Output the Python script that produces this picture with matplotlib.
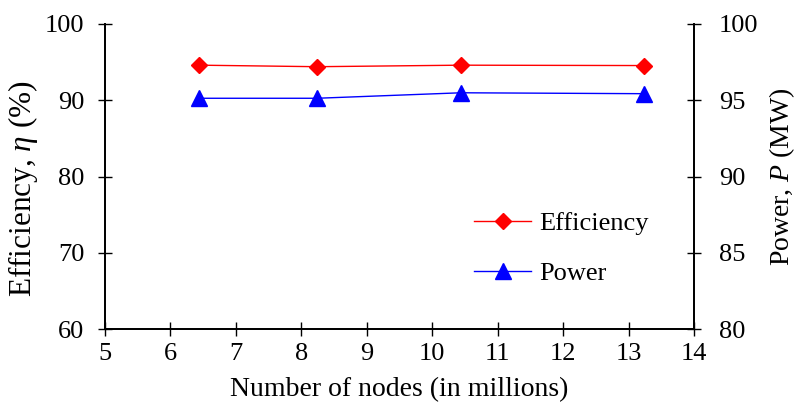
import matplotlib
matplotlib.use("Agg")
import matplotlib.pyplot as plt

nodes = [6.44, 8.24, 10.44, 13.24]
efficiency = [94.6, 94.4, 94.6, 94.55]
power = [95.13, 95.13, 95.49, 95.43]

plt.rcParams['font.family'] = ['Liberation Serif', 'DejaVu Serif']
plt.rcParams['mathtext.fontset'] = 'custom'
plt.rcParams['mathtext.it'] = 'Liberation Serif:italic'
plt.rcParams['mathtext.rm'] = 'Liberation Serif'

fig = plt.figure(figsize=(7.99, 4.12), dpi=100)
ax = fig.add_axes([105/799, 1-329/412, 589/799, 305/412])
ax2 = ax.twinx()

l1, = ax.plot(nodes, efficiency, color='#ff0000', marker='D', markersize=8.5,
              linewidth=1.0, label='Efficiency')
l2, = ax2.plot(nodes, power, color='#0000ff', marker='^', markersize=12,
               linewidth=1.0, label='Power')

ax.set_xlim(5, 14)
ax.set_ylim(60, 100)
ax2.set_ylim(80, 100)
ax.set_xticks(range(5, 15))
ax.set_yticks(range(60, 101, 10))
ax2.set_yticks(range(80, 101, 5))

for a in (ax, ax2):
    a.spines['top'].set_visible(False)
    for s in a.spines.values():
        s.set_linewidth(1.3)
    a.tick_params(direction='inout', length=10, width=1.0, labelsize=19)
ax.tick_params(axis='x', pad=5)
ax.tick_params(axis='y', pad=10)
ax2.tick_params(axis='y', pad=13)

ax.set_xlabel("Number of nodes (in millions)", fontsize=20, labelpad=9)
ax.set_ylabel(r"Efficiency, $\it{\eta}$ (%)", fontsize=22.5)
ax.yaxis.set_label_coords(-0.11, 0.46)
ax2.set_ylabel(r"Power, $\it{P}$ (MW)", fontsize=20, labelpad=6)

ax.legend(handles=[l1, l2], loc='center left', bbox_to_anchor=(0.627, 0.265),
          frameon=False, fontsize=19, handlelength=2.15, labelspacing=1.0,
          handletextpad=0.3, borderpad=0, borderaxespad=0)

fig.savefig("out.png", dpi=100)
